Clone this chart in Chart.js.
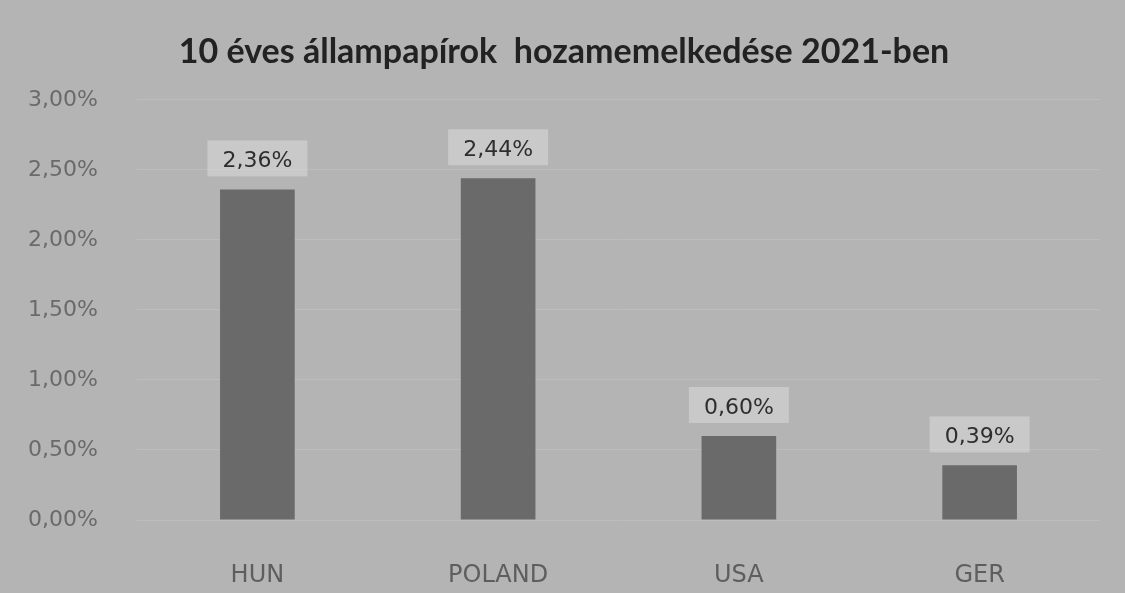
<!DOCTYPE html>
<html>
<head>
<meta charset="utf-8">
<script src="https://cdn.jsdelivr.net/npm/chart.js@4/dist/chart.umd.min.js"></script>
<style>
  html, body { margin: 0; padding: 0; background: #b4b4b4; }
  #wrap { width: 1125px; height: 593px; }
</style>
</head>
<body>
<div id="wrap"><canvas id="chart" width="1125" height="593"></canvas></div>
<script>
const title = '10 éves állampapírok  hozamemelkedése 2021-ben';
const countries = ['HUN', 'POLAND', 'USA', 'GER'];
const yieldRise = [2.36, 2.44, 0.60, 0.39];
const yTicks = [0, 0.5, 1, 1.5, 2, 2.5, 3];

const fmt = (v) => v.toFixed(2).replace('.', ',') + '%';

// labels above bars, with a light box behind like the original
const barLabels = {
  id: 'barLabels',
  afterDatasetsDraw(chart) {
    const ctx = chart.ctx;
    const meta = chart.getDatasetMeta(0);
    ctx.save();
    ctx.font = '22px "DejaVu Sans"';
    ctx.textAlign = 'center';
    ctx.textBaseline = 'middle';
    meta.data.forEach((bar, i) => {
      const txt = fmt(yieldRise[i]);
      const y = bar.y - 28;
      ctx.fillStyle = 'rgba(222,222,222,0.5)';
      ctx.fillRect(bar.x - 50, y - 21, 100, 36);
      ctx.fillStyle = '#2e2e2e';
      ctx.fillText(txt, bar.x, y);
    });
    ctx.restore();
  }
};

const ctx = document.getElementById('chart');
const myChart = new Chart(ctx, {
  type: 'bar',
  data: {
    labels: countries,
    datasets: [{
      data: yieldRise,
      backgroundColor: '#6a6a6a',
      borderWidth: 0,
      categoryPercentage: 1,
      barPercentage: 0.31
    }]
  },
  options: {
    responsive: false,
    animation: false,
    layout: {
      padding: { left: 28, right: 25, top: 0, bottom: 0 }
    },
    plugins: {
      legend: false,
      tooltip: { enabled: false },
      title: {
        display: true,
        text: title,
        color: '#222',
        font: { family: 'Lato', size: 34, weight: 'bold' },
        padding: { top: 32, bottom: 27 }
      }
    },
    scales: {
      x: {
        afterFit(scale) {
          scale.height = 73;
        },
        grid: { display: false, drawTicks: false },
        border: { display: false },
        ticks: {
          color: '#5e5e5e',
          font: { family: '"DejaVu Sans"', size: 24 },
          padding: 41
        }
      },
      y: {
        min: 0,
        max: 3,
        afterBuildTicks(scale) {
          scale.ticks = yTicks.map(v => ({ value: v }));
        },
        afterFit(scale) {
          scale.width = 109;
        },
        grid: { color: 'rgba(255,255,255,0.12)', drawTicks: false },
        border: { display: false },
        ticks: {
          crossAlign: 'far',
          color: '#6a6a6a',
          font: { family: '"DejaVu Sans"', size: 22 },
          callback: (v) => fmt(v)
        }
      }
    }
  },
  plugins: [barLabels]
});
</script>
</body>
</html>
